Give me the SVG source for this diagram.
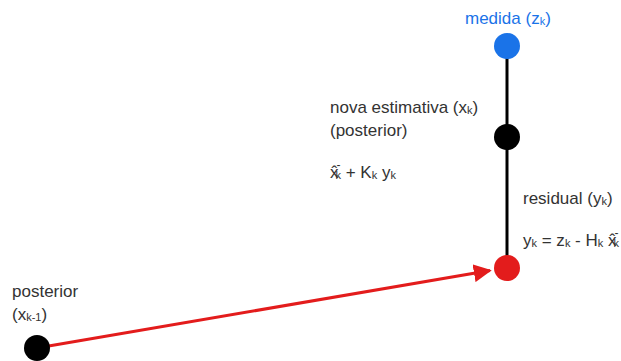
<svg xmlns="http://www.w3.org/2000/svg" width="621" height="361" viewBox="0 0 621 361">
<style>
text{font-family:"Liberation Sans",Arial,sans-serif;font-size:17px;fill:#333}
.sub{font-size:11px}
.blue{fill:#1a73e8}
.sm{font-size:12px}
</style>
<defs>
<marker id="ah" viewBox="0 0 10 10" refX="9" refY="5" markerWidth="6" markerHeight="6" orient="auto" markerUnits="strokeWidth">
<path d="M0,0 L10,5 L0,10 z" fill="#e31c1c"/>
</marker>
</defs>
<rect width="621" height="361" fill="#fff"/>
<g id="connectors">
<line x1="507" y1="46" x2="507" y2="268" stroke="#000" stroke-width="3"/>
<line x1="37" y1="348" x2="490" y2="270.5" stroke="#e31c1c" stroke-width="3" marker-end="url(#ah)"/>
</g>
<g id="medida">
<circle cx="507" cy="46" r="13" fill="#1a73e8"/>
<text x="465" y="24" class="blue">medida (z<tspan class="sub blue" dy="1">k</tspan><tspan dy="-1">)</tspan></text>
</g>
<g id="nova">
<circle cx="507" cy="137" r="13" fill="#000"/>
<text x="330" y="113">nova estimativa (x<tspan class="sub" dy="1">k</tspan><tspan dy="-1">)</tspan></text>
<text x="330" y="136">(posterior)</text>
<text x="330" y="178">x̂<tspan class="sm" dx="-2" dy="-9">-</tspan><tspan class="sub" dx="-5" dy="10">k</tspan><tspan dy="-1"> + K</tspan><tspan class="sub" dy="1">k</tspan><tspan dy="-1"> y</tspan><tspan class="sub" dy="1">k</tspan></text>
</g>
<g id="residual">
<circle cx="507" cy="268" r="13" fill="#e31c1c"/>
<text x="523" y="204">residual (y<tspan class="sub" dy="1">k</tspan><tspan dy="-1">)</tspan></text>
<text x="523" y="246">y<tspan class="sub" dy="1">k</tspan><tspan dy="-1"> = z</tspan><tspan class="sub" dy="1">k</tspan><tspan dy="-1"> - H</tspan><tspan class="sub" dy="1">k</tspan><tspan dy="-1"> x̂</tspan><tspan class="sm" dx="-2" dy="-9">-</tspan><tspan class="sub" dx="-5" dy="10">k</tspan></text>
</g>
<g id="posterior">
<circle cx="37" cy="348" r="13" fill="#000"/>
<text x="12" y="297">posterior</text>
<text x="12" y="320">(x<tspan class="sub" dy="1">k-1</tspan><tspan dy="-1">)</tspan></text>
</g>
</svg>
